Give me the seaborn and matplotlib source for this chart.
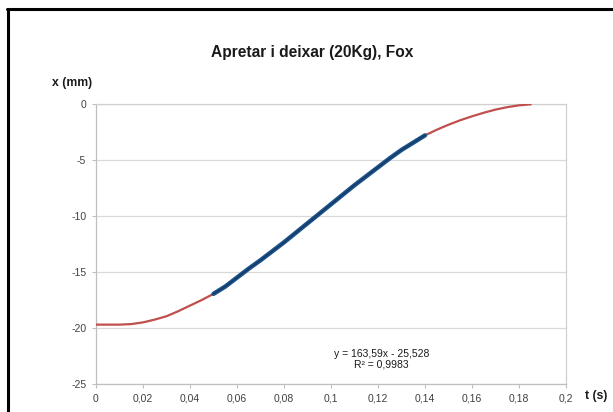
import matplotlib
matplotlib.use("Agg")
import matplotlib.pyplot as plt
import seaborn as sns
import pandas as pd
from matplotlib.lines import Line2D

t_vals = [0.0, 0.005, 0.01, 0.015, 0.02, 0.025, 0.03, 0.035, 0.04, 0.045,
          0.05, 0.055, 0.06, 0.065, 0.07, 0.075, 0.08, 0.085, 0.09, 0.095,
          0.10, 0.105, 0.11, 0.115, 0.12, 0.125, 0.13, 0.135, 0.14, 0.145,
          0.15, 0.155, 0.16, 0.165, 0.17, 0.175, 0.18, 0.185]
x_vals = [-19.7, -19.7, -19.7, -19.65, -19.5, -19.25, -18.95, -18.5, -18.0, -17.5,
          -16.95, -16.3, -15.5, -14.7, -13.95, -13.15, -12.35, -11.5, -10.65, -9.8,
          -8.95, -8.1, -7.25, -6.45, -5.65, -4.85, -4.1, -3.45, -2.8, -2.3,
          -1.85, -1.45, -1.1, -0.78, -0.5, -0.28, -0.12, -0.03]
fit_start, fit_end = 0.05, 0.14
x_ticks = [0, 0.02, 0.04, 0.06, 0.08, 0.1, 0.12, 0.14, 0.16, 0.18, 0.2]
x_tick_labels = ["0", "0,02", "0,04", "0,06", "0,08", "0,1", "0,12", "0,14", "0,16", "0,18", "0,2"]
y_ticks = [0, -5, -10, -15, -20, -25]
y_tick_labels = ["0", "-5", "-10", "-15", "-20", "-25"]
title = "Apretar i deixar (20Kg), Fox"
eq_text = "y = 163,59x - 25,528\nR² = 0,9983"

df = pd.DataFrame({"t": t_vals, "x": x_vals})
fit_df = df[(df["t"] >= fit_start - 1e-9) & (df["t"] <= fit_end + 1e-9)]

sns.set_theme(style="white")
plt.rcParams["font.family"] = ["Liberation Sans", "DejaVu Sans"]

fig = plt.figure(figsize=(6.13, 4.12), dpi=100)
ax = fig.add_axes([96 / 613, 28 / 412, 470 / 613, 280 / 412])

sns.lineplot(data=df, x="t", y="x", ax=ax, color="#C0504D", linewidth=1.6,
             sort=False, zorder=3)
sns.lineplot(data=fit_df, x="t", y="x", ax=ax, color="#1B5189", linewidth=3.2,
             sort=False, zorder=4)
sns.lineplot(data=fit_df, x="t", y="x", ax=ax, color="#0d2236", linewidth=0.7,
             alpha=0.6, sort=False, zorder=5)

ax.set_xlim(0, 0.2)
ax.set_ylim(-25, 0)
ax.set_xticks(x_ticks)
ax.set_xticklabels(x_tick_labels)
ax.set_yticks(y_ticks)
ax.set_yticklabels(y_tick_labels)
ax.tick_params(axis="both", labelsize=7.5, colors="#404040", length=3, width=0.8,
               direction="out", pad=4)
ax.tick_params(axis="both", color="#BFBFBF")
ax.xaxis.set_ticks_position("bottom")
ax.yaxis.set_ticks_position("left")
ax.grid(axis="y", color="#D9D9D9", linewidth=0.9)
ax.grid(axis="x", visible=False)
ax.set_xlabel("")
ax.set_ylabel("")
for side in ["left", "bottom", "right", "top"]:
    ax.spines[side].set_color("#D0D0D0")
    ax.spines[side].set_linewidth(0.9)
ax.spines["left"].set_color("#BFBFBF")
ax.spines["bottom"].set_color("#BFBFBF")

ax.text(0.1215, -22.8, eq_text, ha="center", va="center", fontsize=7.5,
        color="#1a1a1a", linespacing=1.15)

fig.text(312 / 613, 1 - 53 / 412, title, ha="center", va="center",
         fontsize=11.2, fontweight="bold", color="#1a1a1a")
fig.text(52 / 613, 1 - 83 / 412, "x (mm)", ha="left", va="center",
         fontsize=8.8, fontweight="bold", color="#1a1a1a")
fig.text(585 / 613, 1 - 396 / 412, "t (s)", ha="left", va="center",
         fontsize=8.8, fontweight="bold", color="#1a1a1a")

# outer chart frame (left and top edges visible)
fig.add_artist(Line2D([8 / 613, 8 / 613], [-0.05, 1 - 8.5 / 412],
                      transform=fig.transFigure, color="black", linewidth=2.2))
fig.add_artist(Line2D([7 / 613, 1.05], [1 - 8.5 / 412, 1 - 8.5 / 412],
                      transform=fig.transFigure, color="black", linewidth=2.2))

fig.savefig("out.png", dpi=100)
